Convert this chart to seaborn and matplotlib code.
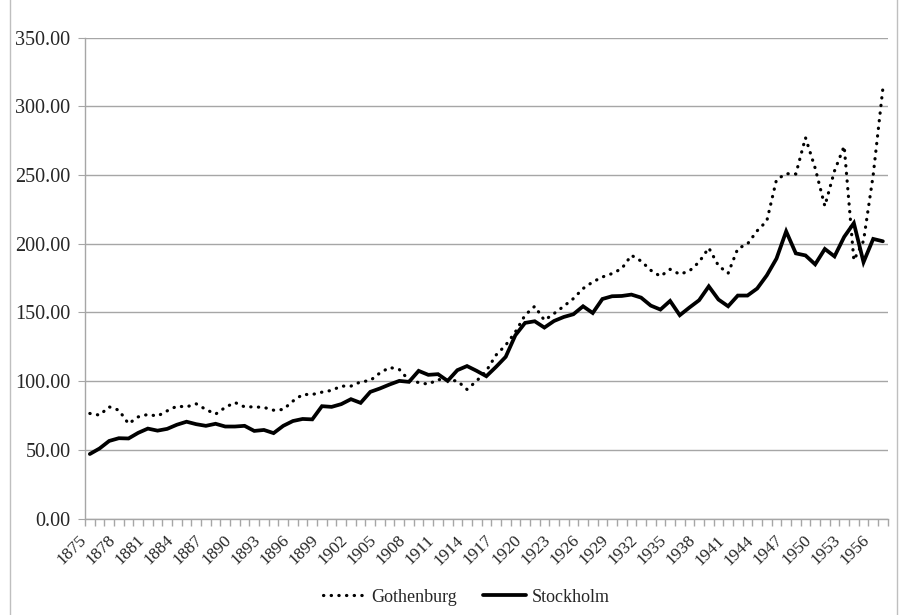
import numpy as np
import pandas as pd
import matplotlib
matplotlib.use('Agg')
import matplotlib.pyplot as plt
import matplotlib.transforms as mtransforms
from matplotlib.lines import Line2D
from matplotlib.patches import Rectangle
import seaborn as sns

#data, one value per year
years = list(range(1875, 1958))

gothenburg = [76.5, 75.3, 81.3, 78.9, 69.0, 74.0, 75.8, 74.6, 78.4, 81.8,
              81.3, 83.5, 79.4, 76.0, 80.9, 84.5, 81.3, 81.3, 80.9, 78.9,
              79.4, 85.5, 90.3, 90.3, 92.0, 93.3, 96.4, 96.4, 99.5, 100.5,
              106.0, 110.0, 108.5, 100.7, 99.0, 97.8, 101.2, 100.7, 100.2, 94.0,
              100.2, 107.5, 119.0, 126.2, 135.8, 148.0, 154.5, 144.3, 149.2, 154.5,
              160.1, 167.4, 172.2, 175.8, 178.3, 181.9, 191.6, 187.4, 180.7, 176.3,
              181.4, 177.8, 180.2, 186.7, 197.0, 184.0, 178.5, 196.5, 199.8, 209.4,
              216.6, 246.6, 251.0, 250.7, 277.2, 255.0, 227.4, 253.0, 271.0, 188.0,
              202.0, 250.0, 313.0]

stockholm = [47.0, 51.0, 56.5, 58.5, 58.3, 62.4, 65.5, 64.0, 65.3, 68.3,
             70.5, 68.7, 67.5, 69.0, 67.0, 67.0, 67.5, 63.8, 64.5, 62.2,
             67.5, 71.0, 72.5, 72.2, 81.8, 81.3, 83.3, 86.9, 84.2, 92.2,
             94.7, 97.6, 100.2, 99.5, 107.5, 104.6, 105.1, 100.2, 108.0, 111.0,
             107.5, 103.6, 110.4, 117.7, 133.4, 142.4, 143.6, 139.0, 143.8, 146.7,
             148.7, 154.5, 149.6, 159.8, 161.8, 162.0, 163.0, 160.8, 155.0, 152.1,
             158.4, 148.0, 153.6, 158.9, 169.0, 159.4, 154.5, 162.3, 162.3, 167.4,
             177.0, 189.2, 209.0, 193.0, 191.5, 185.0, 196.2, 190.8, 205.0, 215.0,
             186.6, 203.5, 201.8]

y_ticks = [0, 50, 100, 150, 200, 250, 300, 350]
label_years = years[::3]

df = pd.DataFrame({'year': years, 'Gothenburg': gothenburg, 'Stockholm': stockholm})

sns.set_style('white')
plt.rcParams['font.family'] = ['Liberation Serif', 'DejaVu Serif']

fig = plt.figure(figsize=(9.03, 6.15), dpi=100)
ax = fig.add_axes([85/903, 96.4/615, 802.7/903, 481/615])

dotted = (0, (0.1, 2.3))
sns.lineplot(data=df, x='year', y='Gothenburg', ax=ax, color='black', lw=2.3,
             linestyle=dotted, dash_capstyle='round', legend=False)
sns.lineplot(data=df, x='year', y='Stockholm', ax=ax, color='black', lw=2.7,
             solid_joinstyle='miter', legend=False)

ax.set_xlim(1874.5, 1957.5)
ax.set_ylim(0, 350)
ax.set_xlabel('')
ax.set_ylabel('')

#y axis
ax.set_yticks(y_ticks)
ax.set_yticklabels(['{0:.2f}'.format(v) for v in y_ticks], fontsize=14.5)
ax.yaxis.grid(True, color='#a6a6a6', lw=1)
ax.set_axisbelow(True)

#x axis: labels at category centres, tick marks between categories
ax.set_xticks(label_years)
ax.set_xticklabels([str(y) for y in label_years], rotation=45, ha='right', va='center',
                   rotation_mode='anchor', fontsize=12.5)
ax.set_xticks(np.arange(1874.5, 1958, 1), minor=True)
ax.tick_params(axis='x', which='major', length=0, pad=14)
ax.tick_params(axis='x', which='minor', length=5, color='#a6a6a6', width=1, bottom=True)
ax.tick_params(axis='y', length=5, color='#a6a6a6', left=True, pad=5.5)
shift = mtransforms.ScaledTranslation(-6/100, 0, fig.dpi_scale_trans)
for lab in ax.get_xticklabels():
    lab.set_transform(lab.get_transform() + shift)

for s in ['top', 'right']:
    ax.spines[s].set_visible(False)
for s in ['left', 'bottom']:
    ax.spines[s].set_color('#a6a6a6')
    ax.spines[s].set_linewidth(1)

#legend
handles = [Line2D([], [], color='black', lw=2.3, linestyle=dotted, dash_capstyle='round'),
           Line2D([], [], color='black', lw=2.7)]
fig.legend(handles, ['Gothenburg', 'Stockholm'], loc='center', bbox_to_anchor=(466/903, 18/615),
           ncol=2, frameon=False, fontsize=13, handlelength=2.4, columnspacing=1.4,
           handletextpad=0.3)

#chart border
fig.patches.append(Rectangle((10/903, -0.01), 887/903, 1.02, transform=fig.transFigure,
                             fill=False, edgecolor='#bfbfbf', lw=1))

fig.savefig('out.png', dpi=100)
